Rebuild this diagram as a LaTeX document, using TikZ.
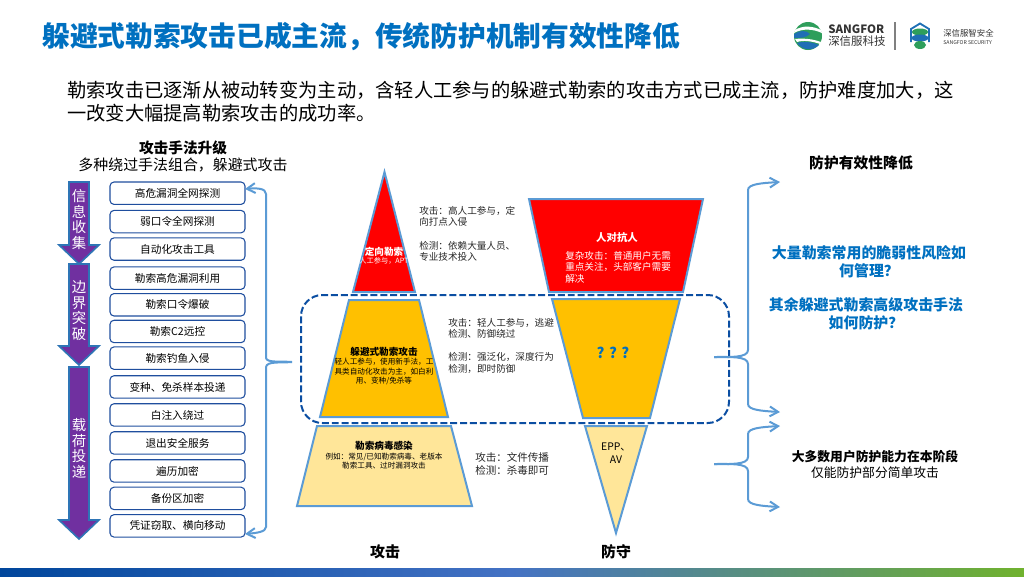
\documentclass[tikz,border=0pt]{standalone}
\usepackage{fontspec}
\setmainfont{Noto Sans CJK SC}
\usepackage{tikz}
\usetikzlibrary{arrows.meta,positioning}
\definecolor{TitleBlue}{HTML}{0070C0}
\definecolor{EdgeBlue}{HTML}{5B9BD5}
\definecolor{BoxBlue}{HTML}{1F4E9E}
\definecolor{DashBlue}{HTML}{0B4EA2}
\definecolor{StepPurple}{HTML}{7030A0}
\definecolor{StepEdge}{HTML}{2E75B6}
\definecolor{LevelRed}{HTML}{FF0000}
\definecolor{LevelGold}{HTML}{FFC000}
\definecolor{LevelPale}{HTML}{FFE699}
\definecolor{BarBlue}{HTML}{00469C}
\definecolor{BarMid}{HTML}{4472C4}
\definecolor{BarGreen}{HTML}{70B22E}
\definecolor{LogoGreen}{HTML}{2E9E5B}
\definecolor{LogoBlue}{HTML}{1F6FB5}
\newcommand{\fs}[1]{\fontsize{#1}{#1}\selectfont}

\begin{document}
\begin{tikzpicture}[x=0.75pt,y=-0.75pt,
stepbox/.style={draw=BoxBlue,line width=0.8pt,rounded corners=3pt,fill=white,minimum width=101.25pt,minimum height=16.8pt,inner sep=0pt,outer sep=0pt,font=\fs{8}},
steparrow/.style={draw=StepEdge,line width=1.2pt,fill=StepPurple},
steptext/.style={text=white,align=center,font=\fs{10.8},inner sep=0pt},
level/.style={draw=EdgeBlue,line width=1.5pt,line join=miter},
side/.style={align=left,anchor=west,inner sep=0pt,font=\fontsize{7.2}{8.5}\selectfont,text=black!85},
head/.style={align=center,inner sep=0pt,font=\fs{7.2}\bfseries},
small/.style={align=center,inner sep=0pt,font=\fontsize{5.7}{7.2}\selectfont},
ask/.style={align=center,inner sep=0pt,text=TitleBlue,font=\fontsize{11.2}{13.5}\selectfont\bfseries},
arr/.style={-{Straight Barb[length=2.2mm,width=2.6mm]},EdgeBlue,line width=1.5pt}]
\useasboundingbox (0,0) rectangle (1024,576);
\shade[left color=BarBlue,right color=BarGreen,middle color=BarMid] (0,568) rectangle (1024,576);

\node[anchor=west,inner sep=0pt,text=TitleBlue,font=\fs{20.8}\bfseries] (title) at (42,37) {躲避式勒索攻击已成主流，传统防护机制有效性降低};
\node[anchor=north west,inner sep=0pt,align=left,font=\fontsize{14.45}{17.3}\selectfont] (intro) at (67,81) {勒索攻击已逐渐从被动转变为主动，含轻人工参与的躲避式勒索的攻击方式已成主流，防护难度加大，这\\一改变大幅提高勒索攻击的成功率。};

\fill[LogoGreen] (808,36) circle (14);
\fill[LogoBlue] (794,34) .. controls (800,30) and (806,30) .. (810,34) .. controls (806,38) and (800,38) .. (794,38) -- cycle;
\fill[white] (795,30) .. controls (803,25) and (813,26) .. (821,30) -- (822,33) .. controls (813,29) and (803,28) .. (794,33) -- cycle;
\fill[white] (795,39) .. controls (803,38) and (813,39) .. (821,42) -- (820,44) .. controls (812,41) and (803,40) .. (797,42) -- cycle;
\fill[LogoBlue] (797,43) .. controls (803,41) and (813,42) .. (819,45) .. controls (813,51) and (803,51) .. (797,43) -- cycle;
\node[anchor=west,inner sep=0pt,font=\fs{8.6}\bfseries,text=black!80] (brand) at (828,29) {SANGFOR};
\node[anchor=west,inner sep=0pt,font=\fs{8.6},text=black!80] (brandcn) at (828,41.5) {深信服科技};
\draw[black!50,line width=0.8pt] (895,22) -- (895,50);
\draw[LogoBlue,line width=1.4pt] (911,42) -- (911,29) -- (920,23.5) -- (929,29) -- (929,42);
\fill[LogoGreen] (920,32) ellipse (8 and 3.5);
\fill[LogoBlue] (920,38) ellipse (8.5 and 3.5);
\fill[LogoGreen] (920,45) ellipse (6 and 4);
\node[anchor=west,inner sep=0pt,font=\fs{6.3},text=black!80] (secure) at (943,33) {深信服智安全};
\node[anchor=west,inner sep=0pt,font=\fs{3.9},text=black!80] (secureen) at (943,43) {SANGFOR SECURITY};

\node[inner sep=0pt,font=\fs{11}\bfseries] (leftcap) at (183,148) {攻击手法升级};
\node[inner sep=0pt,font=\fs{11.2}] (leftsub) at (183,165) {多种绕过手法组合，躲避式攻击};

\draw[steparrow] (69,182) -- (89,182) -- (89,245) -- (99,245) -- (79,264) -- (59,245) -- (69,245) -- cycle;
\draw[steparrow] (69,264) -- (89,264) -- (89,346) -- (99,346) -- (79,365) -- (59,346) -- (69,346) -- cycle;
\draw[steparrow] (69,367) -- (89,367) -- (89,520) -- (99,520) -- (79,539) -- (59,520) -- (69,520) -- cycle;
\node[steptext] (collect) at (79,219.5) {信\\[0.8pt]息\\[0.8pt]收\\[0.8pt]集};
\node[steptext] (breach) at (79,310.5) {边\\[0.8pt]界\\[0.8pt]突\\[0.8pt]破};
\node[steptext] (deliver) at (79,448.5) {载\\[0.8pt]荷\\[0.8pt]投\\[0.8pt]递};

\node[stepbox,anchor=north] (scan) at (177.5,182) {高危漏洞全网探测};
\node[stepbox,below=4.5pt of scan] (weak) {弱口令全网探测};
\node[stepbox,below=3.8pt of weak] (auto) {自动化攻击工具};
\node[stepbox,below=5pt of auto] (exploit) {勒索高危漏洞利用};
\node[stepbox,below=3.2pt of exploit] (brute) {勒索口令爆破};
\node[stepbox,below=3.2pt of brute] (ctwo) {勒索C2远控};
\node[stepbox,below=3.2pt of ctwo] (phish) {勒索钓鱼入侵};
\node[stepbox,below=4.8pt of phish] (variant) {变种、免杀样本投递};
\node[stepbox,below=4.2pt of variant] (white) {白注入绕过};
\node[stepbox,below=4.2pt of white] (quit) {退出安全服务};
\node[stepbox,below=4.2pt of quit] (walk) {遍历加密};
\node[stepbox,below=3.8pt of walk] (backup) {备份区加密};
\node[stepbox,below=3.8pt of backup] (steal) {凭证窃取、横向移动};

\coordinate (leftmid) at (292,362);
\draw[arr] (leftmid) .. controls (280,361) and (267,363) .. (266,358) -- (266,194) .. controls (266,188) and (256,188) .. (scan.east |- 0,189);
\draw[arr] (leftmid) .. controls (280,363) and (267,361) .. (266,367) -- (266,527) .. controls (266,532) and (256,533) .. (steal.east |- 0,534);

\draw[level,fill=LevelRed] (384.5,172) -- (415,292) -- (353,292) -- cycle;
\draw[level,fill=LevelGold] (349,300) -- (419,300) -- (448,417) -- (320,417) -- cycle;
\draw[level,fill=LevelPale] (317,426) -- (451,426) -- (472,506) -- (297,506) -- cycle;
\draw[level,fill=LevelRed] (529,199) -- (703,199) -- (683,292) -- (549,292) -- cycle;
\draw[level,fill=LevelGold] (552,299) -- (680,299) -- (650,418) -- (583,418) -- cycle;
\draw[level,fill=LevelPale] (585,426) -- (647,426) -- (616,533) -- cycle;

\node[head,text=white,font=\fs{7.2}\bfseries] (targeted) at (384,252) {定向勒索};
\node[small,text=white,font=\fs{5.4}] (targetedsub) at (384,261) {人工参与，APT};
\node[side] (targetednote) at (419,216.5) {攻击：高人工参与，定\\向打点入侵};
\node[side] (targetedcheck) at (419,251) {检测：依赖大量人员、\\专业技术投入};

\node[head] (evade) at (384,352) {躲避式勒索攻击};
\node[small] (evadesub) at (384,371.5) {轻人工参与，使用新手法，工\\具类自动化攻击为主，如白利\\用、变种/免杀等};
\node[side] (evadenote) at (448,328.5) {攻击：轻人工参与，逃避\\检测、防御绕过};
\node[side] (evadecheck) at (448,363) {检测：强泛化，深度行为\\检测，即时防御};

\node[head] (virus) at (384,446) {勒索病毒感染};
\node[small] (virussub) at (384,461) {例如：常见/已知勒索病毒、老版本\\勒索工具、过时漏洞攻击};
\node[side,font=\fontsize{7.9}{9.8}\selectfont] (virusnote) at (475,463.5) {攻击：文件传播\\检测：杀毒即可};

\node[head,text=white,font=\fs{7.8}\bfseries] (human) at (617,238) {人对抗人};
\node[side,text=white] (humansub) at (565,267) {复杂攻击：普通用户无需\\重点关注，头部客户需要\\解决};
\node[inner sep=0pt,text=TitleBlue,font=\fs{11}\bfseries] (unknown) at (613,353) {? ? ?};
\node[inner sep=0pt,align=center,font=\fontsize{7.8}{9.4}\selectfont] (epp) at (616,453) {EPP、\\AV};

\node[inner sep=0pt,font=\fs{11.2}\bfseries] (attackcap) at (385,552) {攻击};
\node[inner sep=0pt,font=\fs{11.2}\bfseries] (defendcap) at (616,552) {防守};

\draw[DashBlue,line width=1.5pt,dash pattern=on 5.2pt off 2.2pt,rounded corners=16pt] (301,295) rectangle (729,423);

\coordinate (upstart) at (714,357);
\coordinate (uptop) at (780,182);
\coordinate (upend) at (780,412);
\coordinate (lowstart) at (714,464);
\coordinate (lowtop) at (780,426);
\coordinate (lowend) at (780,507);
\draw[arr] (upstart) .. controls (730,357) and (748,358) .. (748,350) -- (748,190) .. controls (748,184) and (762,183) .. (uptop);
\draw[arr] (upstart) .. controls (730,357) and (748,356) .. (748,364) -- (748,404) .. controls (748,410) and (762,411) .. (upend);
\draw[arr] (lowstart) .. controls (730,464) and (748,465) .. (748,457) -- (748,434) .. controls (748,428) and (762,427) .. (lowtop);
\draw[arr] (lowstart) .. controls (730,464) and (748,463) .. (748,471) -- (748,499) .. controls (748,505) and (762,506) .. (lowend);

\node[inner sep=0pt,font=\fs{11.1}\bfseries] (rightcap) at (861,162.5) {防护有效性降低};
\node[ask] (askone) at (869,262) {大量勒索常用的脆弱性风险如\\何管理？};
\node[ask] (asktwo) at (866,314) {其余躲避式勒索高级攻击手法\\如何防护？};
\node[inner sep=0pt,font=\fs{9.6}\bfseries] (mostusers) at (875,457) {大多数用户防护能力在本阶段};
\node[inner sep=0pt,font=\fs{9.6}] (onlypart) at (875,473) {仅能防护部分简单攻击};
\end{tikzpicture}
\end{document}
